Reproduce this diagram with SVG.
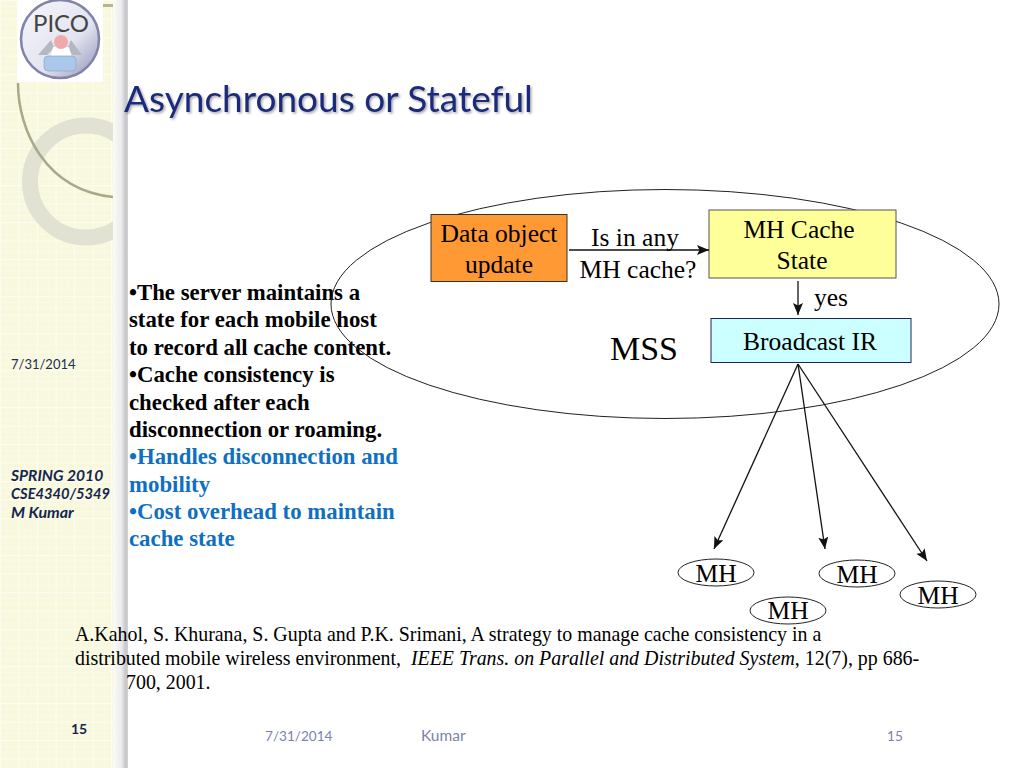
<svg xmlns="http://www.w3.org/2000/svg" width="1024" height="768" viewBox="0 0 1024 768">
<style>
.s{font-family:"Liberation Serif","Times New Roman",serif;fill:#000}
.l{font-family:Lato,"Open Sans",sans-serif}
.b{font-size:22.800px;font-weight:bold}
.d{font-size:25.500px;text-anchor:middle}
.r{font-size:19.900px}
.n{fill:#fff;stroke:#222;stroke-width:1}
.c{stroke:#111;stroke-width:1.3;fill:none;marker-end:url(#a)}
.side{font-weight:bold;font-style:italic;fill:#14264f}
.f{font-size:13.600px;fill:#7b84a8}
.h{fill:#0f6fc0}
</style>
<defs>
<pattern id="g" width="18.500" height="18.500" patternUnits="userSpaceOnUse">
<rect width="18.500" height="18.500" fill="#f8f8dd"/>
<path d="M0 6H18.500M0 12.300H18.500M6 0V18.500M12.300 0V18.500" stroke="#fafae8" stroke-width="1"/>
<path d="M0 .5H18.500M.5 0V18.500" stroke="#fcfcf0" stroke-width="1.200"/>
</pattern>
<linearGradient id="sh" x1="0" x2="1" y1="0" y2="0">
<stop offset="0" stop-color="#fbfbf6"/><stop offset=".55" stop-color="#ececec"/><stop offset=".85" stop-color="#c6c6ca"/><stop offset="1" stop-color="#d4d4d8"/>
</linearGradient>
<linearGradient id="dome" x1="0" x2="1" y1="0" y2="1">
<stop offset="0" stop-color="#f6f6fa"/><stop offset=".6" stop-color="#e2e4f0"/><stop offset="1" stop-color="#8d8fb5"/>
</linearGradient>
<filter id="ts" x="-5%" y="-20%" width="110%" height="140%"><feDropShadow dx="1.500" dy="1.500" stdDeviation="1" flood-color="#000" flood-opacity=".35"/></filter>
<marker id="a" markerWidth="13" markerHeight="11" refX="12" refY="5" orient="auto" markerUnits="userSpaceOnUse"><path d="M0 0L12 5L0 10L2.500 5Z" fill="#111"/></marker>
<clipPath id="sc"><rect x="0" y="0" width="113" height="768"/></clipPath>
</defs>

<rect width="1024" height="768" fill="#fff"/>
<g id="sidebar">
<rect x="0" y="0" width="113" height="768" fill="url(#g)"/>
<rect x="113" y="0" width="15" height="768" fill="url(#sh)"/>
<g clip-path="url(#sc)" fill="none">
<circle cx="86" cy="181.500" r="56" stroke="#e2e2d2" stroke-width="16"/>
<path d="M18 83C18 130 45 190 113 197" stroke="#a9a88a" stroke-width="2.500"/>
<rect x="103" y="4" width="10" height="3" fill="#b6b592" stroke="none"/>
</g>
</g>
<g id="logo">
<rect x="17" y="0" width="86" height="82" fill="#fff"/>
<circle cx="60" cy="39" r="39" fill="url(#dome)" stroke="#8183a8" stroke-width="2.500"/>
<path d="M38 55L51 40L54 47L68 47L71 40L82 55L73 55L66 48L54 48L47 55Z" fill="#b4b8c0"/>
<path d="M53 47H69L72 58H50Z" fill="#fff"/>
<rect x="44" y="56" width="32" height="15" rx="4" fill="#a9c8ea" stroke="#8fa4c4" stroke-width=".7"/>
<circle cx="61" cy="42" r="7" fill="#eeaaaa"/>
<text x="61" y="32" font-family="Lato,sans-serif" font-size="24" fill="#444" text-anchor="middle">PICO</text>
</g>

<text id="title" class="l" x="124" y="112" font-size="37" fill="#1c2a7c" filter="url(#ts)">Asynchronous or Stateful</text>

<g id="side-labels">
<text class="l" x="11" y="369" font-size="13" fill="#20304f">7/31/2014</text>
<text class="l side" x="11" y="481" font-size="15.600">SPRING 2010</text>
<text class="l side" x="11" y="499" font-size="14.700">CSE4340/5349</text>
<text class="l side" x="11" y="518" font-size="16">M Kumar</text>
<text class="l" x="71" y="734" font-size="14" font-weight="bold" fill="#14264f">15</text>
</g>

<g id="bullets" class="s b">
<text x="129" y="300">•The server maintains a</text>
<text x="129" y="327">state for each mobile host</text>
<text x="129" y="355">to record all cache content.</text>
<text x="129" y="382">•Cache consistency is</text>
<text x="129" y="410">checked after each</text>
<text x="129" y="437">disconnection or roaming.</text>
<text class="h" style="fill:#0f6fc0" x="129" y="464">•Handles disconnection and</text>
<text class="h" style="fill:#0f6fc0" x="129" y="492">mobility</text>
<text class="h" style="fill:#0f6fc0" x="129" y="519">•Cost overhead to maintain</text>
<text class="h" style="fill:#0f6fc0" x="129" y="546">cache state</text>
</g>

<g id="mss"><ellipse cx="665" cy="304" rx="334" ry="114.500" fill="none" stroke="#222" stroke-width="1"/>
<text class="s" x="644" y="360" font-size="34" text-anchor="middle">MSS</text></g>

<g id="data-object"><rect x="431" y="214.500" width="136" height="67" fill="#ff9933" stroke="#333"/>
<text class="s d" x="499" y="242">Data object</text><text class="s d" x="499" y="273">update</text></g>
<g id="cache-state"><rect x="709" y="210" width="187" height="68" fill="#ffff99" stroke="#555"/>
<text class="s d" x="799" y="238">MH Cache</text><text class="s d" x="802" y="269">State</text></g>
<g id="broadcast"><rect x="711" y="318.500" width="200" height="44" fill="#ccffff" stroke="#225"/>
<text class="s d" x="810" y="350">Broadcast IR</text></g>

<g id="connectors">
<path class="c" d="M569 250H709"/>
<path class="c" d="M798 281V315"/>
<path class="c" d="M798 364L714 549"/>
<path class="c" d="M798 364L825 549"/>
<path class="c" d="M798 364L927 561"/>
</g>

<g id="edge-labels">
<text class="s d" x="635" y="246">Is in any</text>
<text class="s d" x="638" y="278">MH cache?</text>
<text class="s d" x="831" y="306">yes</text>
</g>

<g id="mh1"><ellipse class="n" cx="716" cy="572.500" rx="38" ry="13.500"/><text class="s d" x="716" y="582">MH</text></g>
<g id="mh2"><ellipse class="n" cx="857" cy="573.500" rx="38" ry="13.500"/><text class="s d" x="857" y="583">MH</text></g>
<g id="mh3"><ellipse class="n" cx="788" cy="610.500" rx="38" ry="13.500"/><text class="s d" x="788" y="619">MH</text></g>
<g id="mh4"><ellipse class="n" cx="938" cy="594.500" rx="38" ry="13.500"/><text class="s d" x="938" y="604">MH</text></g>

<g id="reference" class="s r">
<text x="75" y="641">A.Kahol, S. Khurana, S. Gupta and P.K. Srimani, A strategy to manage cache consistency in a</text>
<text x="75" y="665" xml:space="preserve">distributed mobile wireless environment,  <tspan font-style="italic">IEEE Trans. on Parallel and Distributed System</tspan>, 12(7), pp 686-</text>
<text x="126" y="689">700, 2001.</text>
</g>

<g id="footer" class="l f">
<text x="265" y="741">7/31/2014</text>
<text x="421" y="741" font-size="15.500">Kumar</text>
<text x="887" y="741">15</text>
</g>
</svg>
